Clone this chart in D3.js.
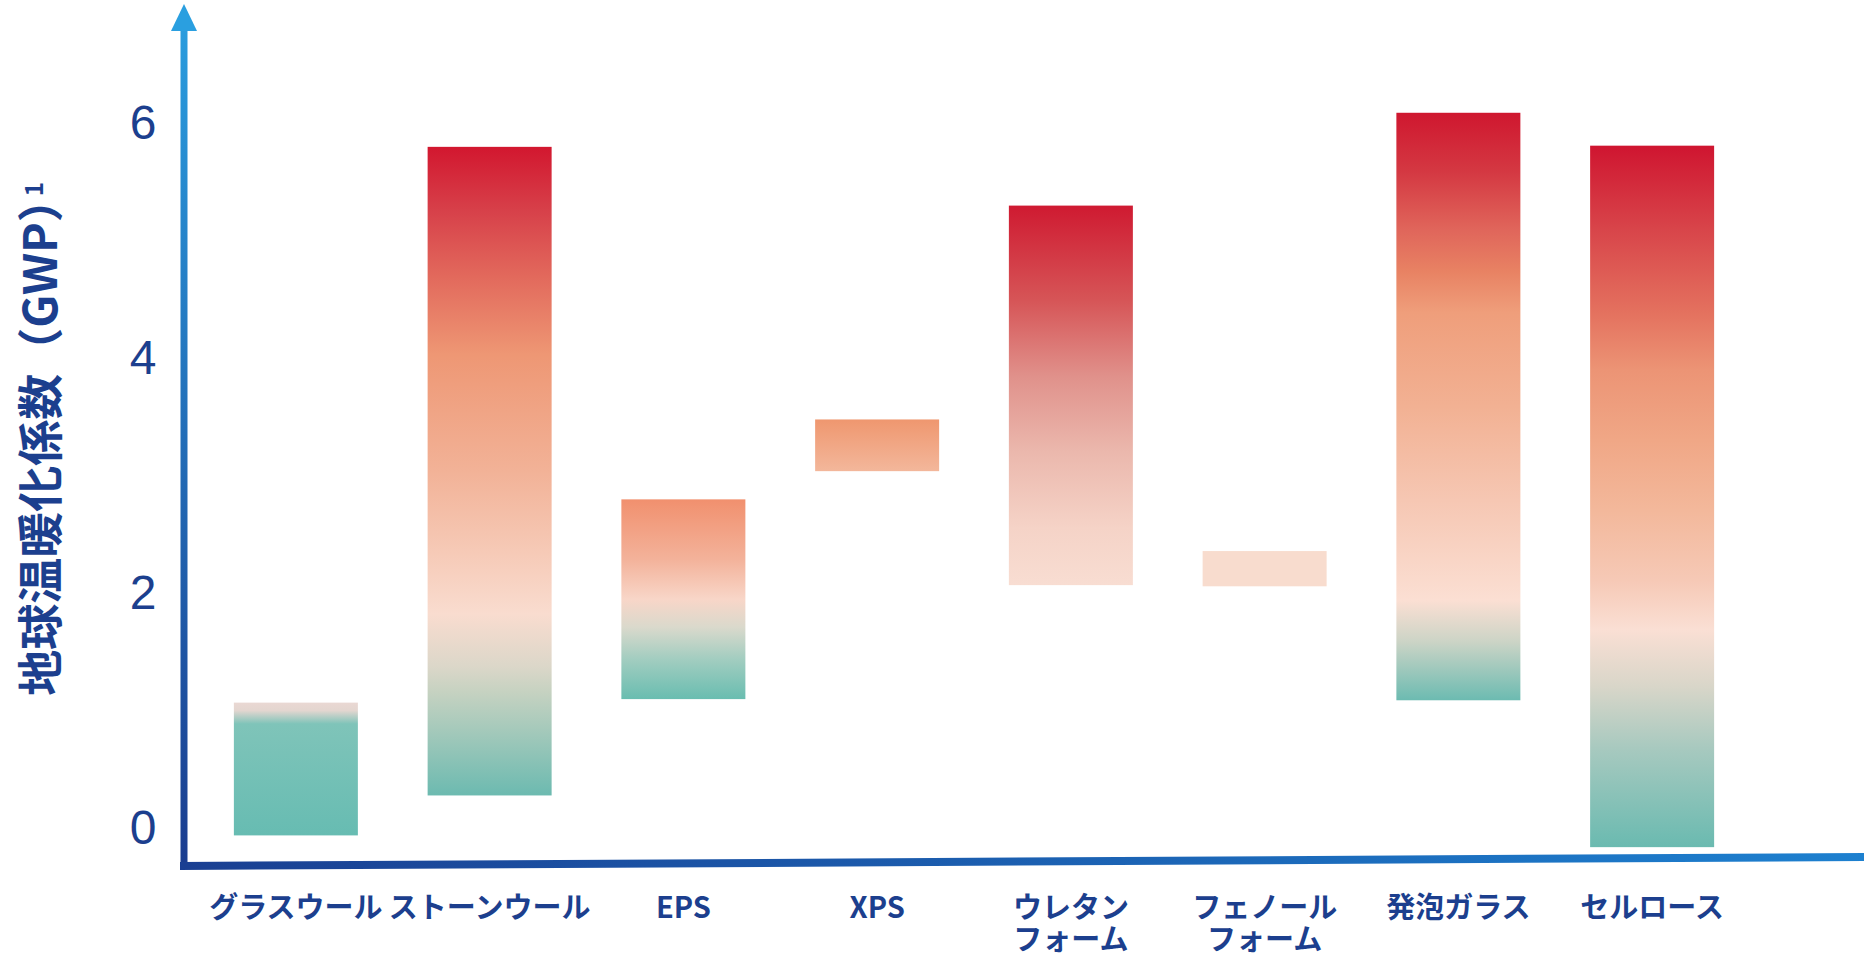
<!DOCTYPE html>
<html>
<head>
<meta charset="utf-8">
<script src="https://cdn.jsdelivr.net/npm/d3@7"></script>
<style>
  html, body { margin: 0; padding: 0; background: #ffffff; }
  svg { display: block; }
</style>
</head>
<body>
<div id="chart"></div>
<script>
'use strict';

// data
var categories = ['グラスウール', 'ストーンウール', 'EPS', 'XPS', 'ウレタン\nフォーム', 'フェノール\nフォーム', '発泡ガラス', 'セルロース'];
var lowValues = [-0.08, 0.26, 1.08, 3.02, 2.05, 2.04, 1.07, -0.18];
var highValues = [1.05, 5.78, 2.78, 3.46, 5.28, 2.34, 6.07, 5.79];
var yTicks = [0, 2, 4, 6];
var yTitle = '地球温暖化係数（GWP）';
var yTitleNote = '1';

// gradient stops per bar, top (0) to bottom (1)
var barStops = [
  [[0, '#ead8d3'], [0.06, '#e3d6d0'], [0.16, '#7fc4b9'], [1, '#67bcb2']],
  [[0, '#d2172f'], [0.1, '#d7414a'], [0.2, '#e2695c'], [0.32, '#ee9774'], [0.5, '#f2b297'], [0.72, '#f9dccf'], [0.8, '#dcd7c9'], [0.84, '#c6d2c1'], [1, '#6cbab0']],
  [[0, '#f1906e'], [0.3, '#f3b29a'], [0.5, '#f8d6c8'], [0.64, '#dad9cc'], [0.8, '#a2cdc0'], [1, '#69bdb0']],
  [[0, '#ef976f'], [1, '#f3b79b']],
  [[0, '#cf1a31'], [0.25, '#d65557'], [0.45, '#e0918b'], [0.65, '#ebb8ad'], [0.85, '#f5d3c7'], [1, '#f8ddd2']],
  [[0, '#f8dcce'], [1, '#f8dcce']],
  [[0, '#cf172f'], [0.1, '#d43842'], [0.2, '#e0665b'], [0.27, '#e88263'], [0.34, '#ef9e7b'], [0.5, '#f2b193'], [0.66, '#f6c7b3'], [0.83, '#fbdfd3'], [0.9, '#ccd4c6'], [1, '#6cbbb1']],
  [[0, '#cf1530'], [0.12, '#d8454a'], [0.24, '#e4725f'], [0.32, '#ec9475'], [0.42, '#f0a786'], [0.52, '#f3b89b'], [0.62, '#f6c9b6'], [0.69, '#fadfd4'], [0.77, '#d9d6c9'], [0.86, '#a7c9bf'], [1, '#6abab0']]
];

var w = 1864;
var h = 960;
var navy = '#1c3f8e';

var svg = d3.select('#chart')
  .append('svg')
  .attr('width', w)
  .attr('height', h)
  .attr('viewBox', '0 0 ' + w + ' ' + h);

var defs = svg.append('defs');

var x = d3.scaleBand()
  .domain(categories)
  .range([199, 1749])
  .paddingInner(0.36)
  .paddingOuter(0.18);

var y = d3.scaleLinear()
  .domain([0, 6])
  .range([826, 121]);

// bar gradients
barStops.forEach(function(stops, i) {
  var grad = defs.append('linearGradient')
    .attr('id', 'bar-grad-' + i)
    .attr('x1', 0).attr('y1', 0)
    .attr('x2', 0).attr('y2', 1);
  stops.forEach(function(s) {
    grad.append('stop')
      .attr('offset', s[0])
      .attr('stop-color', s[1]);
  });
});

// axis gradients
var gy = defs.append('linearGradient')
  .attr('id', 'axis-y-grad')
  .attr('gradientUnits', 'userSpaceOnUse')
  .attr('x1', 0).attr('y1', 0)
  .attr('x2', 0).attr('y2', 870);
gy.append('stop').attr('offset', 0).attr('stop-color', '#2a9fe0');
gy.append('stop').attr('offset', 1).attr('stop-color', '#1a3c8f');

var gx = defs.append('linearGradient')
  .attr('id', 'axis-x-grad')
  .attr('gradientUnits', 'userSpaceOnUse')
  .attr('x1', 180).attr('y1', 0)
  .attr('x2', 1864).attr('y2', 0);
gx.append('stop').attr('offset', 0).attr('stop-color', '#1a3f92');
gx.append('stop').attr('offset', 1).attr('stop-color', '#1d80cf');

// floating bars
svg.append('g')
  .selectAll('rect')
  .data(categories)
  .join('rect')
  .attr('x', function(d) { return x(d); })
  .attr('y', function(d, i) { return y(highValues[i]); })
  .attr('width', x.bandwidth())
  .attr('height', function(d, i) { return y(lowValues[i]) - y(highValues[i]); })
  .attr('fill', function(d, i) { return 'url(#bar-grad-' + i + ')'; });

// axis lines
svg.append('line')
  .attr('x1', 184).attr('y1', 869)
  .attr('x2', 184).attr('y2', 26)
  .attr('stroke', 'url(#axis-y-grad)')
  .attr('stroke-width', 7);
svg.append('path')
  .attr('d', 'M171,31 L197,31 L184,4 Z')
  .attr('fill', '#2a9fe0');
svg.append('line')
  .attr('x1', 180).attr('y1', 866)
  .attr('x2', 1864).attr('y2', 857)
  .attr('stroke', 'url(#axis-x-grad)')
  .attr('stroke-width', 8);

// y tick labels
var yAxis = svg.append('g')
  .attr('transform', 'translate(168,0)')
  .call(d3.axisLeft(y).tickValues(yTicks).tickFormat(d3.format('d')).tickSize(0).tickPadding(0));
yAxis.select('.domain').remove();
yAxis.selectAll('text')
  .attr('x', -25)
  .attr('dy', '0.36em')
  .attr('text-anchor', 'middle')
  .attr('fill', navy)
  .style('font-family', '"Liberation Sans", Arial, sans-serif')
  .style('font-size', '48px');

// category labels
var xAxis = svg.append('g')
  .attr('transform', 'translate(0,918)')
  .call(d3.axisBottom(x).tickSize(0).tickPadding(0).tickFormat(''));
xAxis.select('.domain').remove();
xAxis.selectAll('.tick text').remove();
xAxis.selectAll('.tick')
  .append('text')
  .attr('text-anchor', 'middle')
  .attr('fill', navy)
  .style('font-family', '"Noto Sans CJK JP", sans-serif')
  .style('font-weight', 'bold')
  .style('font-size', '29px')
  .each(function(d) {
    var t = d3.select(this);
    d.split('\n').forEach(function(line, k) {
      t.append('tspan')
        .attr('x', 0)
        .attr('y', k * 32)
        .text(line);
    });
  });

// y title
var title = svg.append('text')
  .attr('transform', 'translate(57,436) rotate(-90)')
  .attr('text-anchor', 'middle')
  .attr('fill', navy)
  .style('font-family', '"Noto Sans CJK JP", sans-serif')
  .style('font-weight', 'bold')
  .style('font-size', '46px');
title.append('tspan').text(yTitle);
title.append('tspan')
  .attr('dx', -20)
  .attr('dy', -14)
  .style('font-size', '24px')
  .text(yTitleNote);
</script>
</body>
</html>
